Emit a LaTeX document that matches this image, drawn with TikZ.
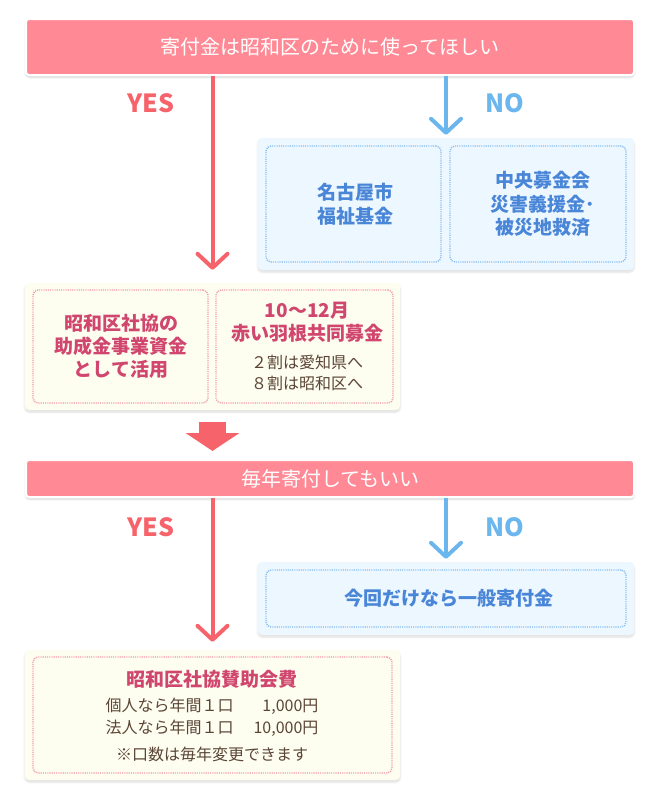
\documentclass[tikz,border=0pt]{standalone}
\usepackage{fontspec}
\setmainfont{Noto Sans CJK JP}
\usepackage{xcolor}
\usepackage{tikz}
\usetikzlibrary{
  positioning, arrows.meta, calc, shadows.blur
}
\definecolor{barPink}{HTML}{FF8A95}
\definecolor{yesRed}{HTML}{F6636A}
\definecolor{noBlue}{HTML}{6CB6EE}
\definecolor{paleBlue}{HTML}{EDF7FF}
\definecolor{dotBlue}{HTML}{86BEF0}
\definecolor{textBlue}{HTML}{4A86D8}
\definecolor{paleYellow}{HTML}{FDFDF0}
\definecolor{dotPink}{HTML}{F39AA8}
\definecolor{textPink}{HTML}{D0466E}
\definecolor{textBrown}{HTML}{5B4636}
\tikzset{
  qbar/.style={fill=barPink, draw=white, line width=2pt, rounded corners=3pt,
    minimum width=608, inner sep=0pt, text=white,
    font=\fontsize{20}{24}\selectfont,
    blur shadow={shadow xshift=0pt, shadow yshift=-2pt, shadow blur steps=6, shadow opacity=18}},
  panel/.style={rounded corners=4pt, inner sep=0pt,
    blur shadow={shadow xshift=0pt, shadow yshift=-2pt, shadow blur steps=6, shadow opacity=14}},
  bluepanel/.style={panel, fill=paleBlue, minimum width=376},
  yellowpanel/.style={panel, fill=paleYellow, minimum width=375},
  dotbox/.style={rounded corners=5pt, inner sep=0pt, line width=1.4pt,
    dash pattern=on 1.1pt off 1.1pt},
  bluebox/.style={dotbox, draw=dotBlue},
  pinkbox/.style={dotbox, draw=dotPink},
  bluetxt/.style={text=textBlue, align=center, font=\fontsize{19}{23.5}\selectfont\bfseries},
  pinktxt/.style={text=textPink, align=center, font=\fontsize{19}{23}\selectfont\bfseries},
  browntxt/.style={text=textBrown, align=center, font=\fontsize{16}{21.5}\selectfont},
  yeslbl/.style={text=yesRed, font=\fontsize{25}{28}\selectfont\bfseries},
  nolbl/.style={text=noBlue, font=\fontsize{25}{28}\selectfont\bfseries},
  yesline/.style={draw=yesRed, line width=4pt,
    -{Straight Barb[length=14pt, width=30pt, round]}},
  noline/.style={draw=noBlue, line width=4pt,
    -{Straight Barb[length=14pt, width=30pt, round]}}
}

\begin{document}
\begin{tikzpicture}[x=1pt, y=-1pt]
  \useasboundingbox (0,0) rectangle (660,798);
  % ---- question 1 ----
  \node[qbar, minimum height=56] (q1) at (330,47) {寄付金は昭和区のために使ってほしい};
  \node[yeslbl] (yes1) at (151,103) {YES};
  \node[nolbl] (no1) at (505,103) {NO};
  % ---- NO side ----
  \node[bluepanel, minimum height=132] (nopanel1) at (446,204) {};
  \node[bluebox, minimum width=175, minimum height=116] (fund) at (353.5,204) {};
  \node[bluebox, minimum width=176, minimum height=116] (disaster) at (538,204) {};
  \node[bluetxt] (fundtxt) at (355,204) {名古屋市\\福祉基金};
  \node[bluetxt] (disastertxt) at (543,204) {中央募金会\\災害義援金･\\被災地救済};
  % ---- YES side ----
  \node[yellowpanel, minimum height=127] (yespanel1) at (212.5,346.5) {};
  \node[pinkbox, minimum width=175, minimum height=113] (grant) at (120.5,346.5) {};
  \node[pinkbox, minimum width=177, minimum height=113] (feather) at (304.5,346.5) {};
  \node[pinktxt] (granttxt) at (121,346.5) {昭和区社協の\\助成金事業資金\\として活用};
  \node[pinktxt] (feathertitle) at (307,322) {10～12月\\赤い羽根共同募金};
  \node[browntxt] (feathersplit) at (307,373) {２割は愛知県へ\\８割は昭和区へ};
  \draw[yesline, shorten >=13pt] (q1.south -| yespanel1.north) -- (yespanel1.north);
  \draw[noline, shorten >=3pt] (q1.south -| nopanel1.north) -- (nopanel1.north);
  % ---- question 2 ----
  \node[qbar, minimum height=37] (q2) at (330,478.5) {毎年寄付してもいい};
  \draw[draw=yesRed, line width=27pt, shorten <=12pt, shorten >=8pt,
    -{Triangle[width=53pt, length=18pt]}] (yespanel1.south) -- (q2.north -| yespanel1.south);
  \node[yeslbl] (yes2) at (151,527) {YES};
  \node[nolbl] (no2) at (505,527) {NO};
  % ---- NO side ----
  \node[bluepanel, minimum height=73] (nopanel2) at (446,598.5) {};
  \node[bluebox, minimum width=360, minimum height=57] (onetime) at (446,598.5) {};
  \node[bluetxt] (onetimetxt) at (449,598.5) {今回だけなら一般寄付金};
  % ---- YES side ----
  \node[yellowpanel, minimum height=130] (yespanel2) at (212.5,715) {};
  \node[pinkbox, minimum width=359, minimum height=116] (member) at (212.5,715) {};
  \node[pinktxt] (membertitle) at (212,679) {昭和区社協賛助会費};
  \node[browntxt, font=\fontsize{16}{22}\selectfont] (memberfee) at (212,718) {%
    \begin{tabular}{@{}l@{\hspace{20pt}}r@{}}
      個人なら年間１口 & 1,000円\\
      法人なら年間１口 & 10,000円
    \end{tabular}};
  \node[browntxt] (membernote) at (212,754) {※口数は毎年変更できます};
  \draw[yesline, shorten >=8pt] (q2.south -| yespanel2.north) -- (yespanel2.north);
  \draw[noline, shorten >=3pt] (q2.south -| nopanel2.north) -- (nopanel2.north);
\end{tikzpicture}
\end{document}
